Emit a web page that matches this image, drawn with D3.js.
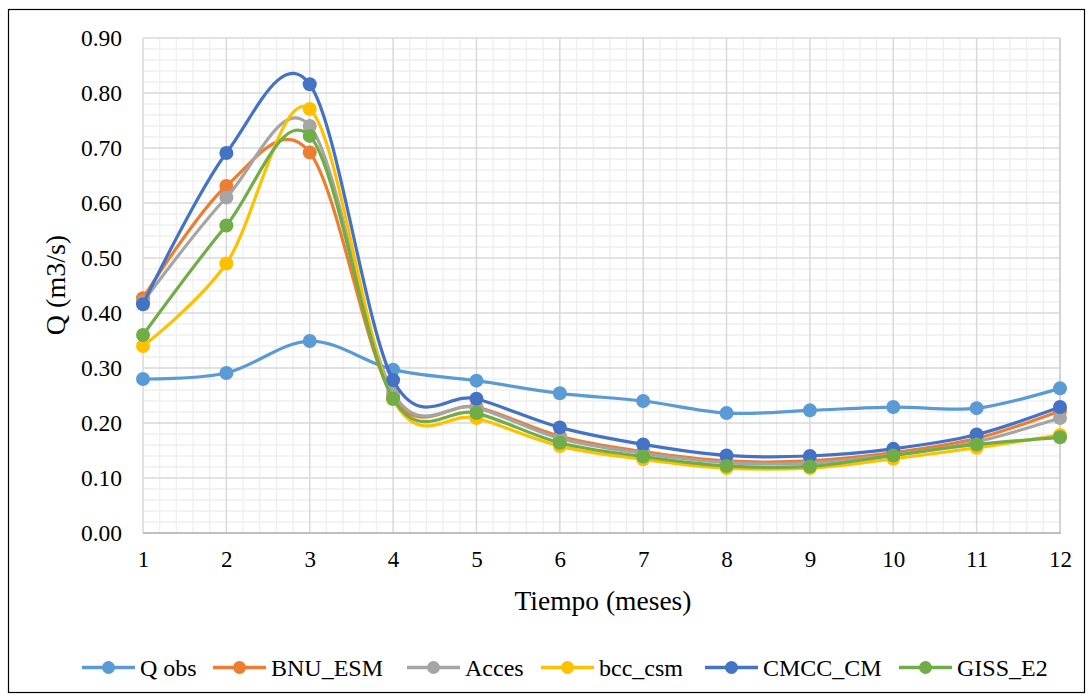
<!DOCTYPE html>
<html>
<head>
<meta charset="utf-8">
<script src="https://cdn.jsdelivr.net/npm/d3@7"></script>
<style>
  html, body { margin: 0; padding: 0; background: #ffffff; }
  svg { display: block; }
  text { font-family: "Liberation Serif", "Times New Roman", serif; fill: #000; }
</style>
</head>
<body>
<svg id="chart" width="1092" height="700"></svg>
<script>
// ---- data ----
const months = [1, 2, 3, 4, 5, 6, 7, 8, 9, 10, 11, 12];
const yTicks = [0, 0.1, 0.2, 0.3, 0.4, 0.5, 0.6, 0.7, 0.8, 0.9];
const seriesNames = ["Q obs", "BNU_ESM", "Acces", "bcc_csm", "CMCC_CM", "GISS_E2"];
const seriesColors = ["#5b9bd5", "#ed7d31", "#a5a5a5", "#ffc000", "#4472c4", "#70ad47"];
const qObs   = [0.280, 0.291, 0.349, 0.297, 0.277, 0.254, 0.240, 0.218, 0.223, 0.229, 0.227, 0.263];
const bnuEsm = [0.427, 0.631, 0.692, 0.247, 0.229, 0.176, 0.148, 0.131, 0.131, 0.146, 0.172, 0.222];
const acces  = [0.420, 0.610, 0.740, 0.255, 0.228, 0.172, 0.145, 0.128, 0.127, 0.142, 0.166, 0.209];
const bccCsm = [0.340, 0.490, 0.771, 0.243, 0.209, 0.158, 0.134, 0.118, 0.118, 0.135, 0.155, 0.178];
const cmccCm = [0.416, 0.691, 0.816, 0.278, 0.244, 0.192, 0.161, 0.141, 0.140, 0.153, 0.179, 0.229];
const gissE2 = [0.360, 0.559, 0.722, 0.244, 0.218, 0.164, 0.139, 0.122, 0.121, 0.141, 0.161, 0.174];
const seriesValues = [qObs, bnuEsm, acces, bccCsm, cmccCm, gissE2];

// ---- layout ----
const svg = d3.select("#chart");
const W = 1092, H = 700;
const plot = { left: 143, right: 1060, top: 38, bottom: 533 };
const legendStarts = [82, 213, 407, 541, 705, 899];

svg.append("rect").attr("x", 0).attr("y", 0).attr("width", W).attr("height", H).attr("fill", "#fff");
svg.append("rect").attr("x", 8.5).attr("y", 9.5).attr("width", 1076).attr("height", 683)
  .attr("fill", "none").attr("stroke", "#000").attr("stroke-width", 1.2);

const x = d3.scaleLinear().domain([1, 12]).range([plot.left, plot.right]);
const y = d3.scaleLinear().domain([0, 0.9]).range([plot.bottom, plot.top]);

// minor grid
const g = svg.append("g");
const minorX = d3.range(0, 55 + 1).map(i => 1 + i * 0.2).filter(v => Math.abs(v - Math.round(v)) > 1e-6);
const minorY = d3.range(0, 45 + 1).map(i => i * 0.02).filter(v => Math.abs(v * 10 - Math.round(v * 10)) > 1e-6);
g.selectAll(".mx").data(minorX).join("line")
  .attr("x1", d => x(d)).attr("x2", d => x(d)).attr("y1", plot.top).attr("y2", plot.bottom)
  .attr("stroke", "#efefef").attr("stroke-width", 1.3);
g.selectAll(".my").data(minorY).join("line")
  .attr("x1", plot.left).attr("x2", plot.right).attr("y1", d => y(d)).attr("y2", d => y(d))
  .attr("stroke", "#efefef").attr("stroke-width", 1.3);
// major grid
g.selectAll(".gx").data(months).join("line")
  .attr("x1", d => x(d)).attr("x2", d => x(d)).attr("y1", plot.top).attr("y2", plot.bottom)
  .attr("stroke", "#d9d9d9").attr("stroke-width", 1.5);
g.selectAll(".gy").data(yTicks).join("line")
  .attr("x1", plot.left).attr("x2", plot.right).attr("y1", d => y(d)).attr("y2", d => y(d))
  .attr("stroke", "#d9d9d9").attr("stroke-width", 1.5);
// right plot edge & bottom axis
g.append("line").attr("x1", plot.right).attr("x2", plot.right).attr("y1", plot.top).attr("y2", plot.bottom)
  .attr("stroke", "#cfcfcf").attr("stroke-width", 1.5);
g.append("line").attr("x1", plot.left).attr("x2", plot.right + 1).attr("y1", plot.bottom).attr("y2", plot.bottom)
  .attr("stroke", "#bfbfbf").attr("stroke-width", 2);

// axes
const yAxis = svg.append("g").attr("transform", `translate(${plot.left},0)`)
  .call(d3.axisLeft(y).tickValues(yTicks).tickFormat(d3.format(".2f")).tickSize(0).tickPadding(21));
yAxis.select(".domain").remove();
yAxis.selectAll("text").style("font-size", "23.5px").style("font-family", "'Liberation Serif', serif").attr("fill", "#000");

const xAxis = svg.append("g").attr("transform", `translate(0,${plot.bottom})`)
  .call(d3.axisBottom(x).tickValues(months).tickFormat(d3.format("d")).tickSize(0).tickPadding(18));
xAxis.select(".domain").remove();
xAxis.selectAll("text").style("font-size", "23px").style("font-family", "'Liberation Serif', serif").attr("fill", "#000");

// axis titles
svg.append("text").attr("x", 603).attr("y", 610).attr("text-anchor", "middle")
  .style("font-size", "27.5px").text("Tiempo (meses)");
svg.append("text").attr("transform", "translate(65,285) rotate(-90)").attr("text-anchor", "middle")
  .style("font-size", "28px").text("Q (m3/s)");

// series
const line = d3.line().x((d, i) => x(months[i])).y(d => y(d)).curve(d3.curveCatmullRom.alpha(0));
const sg = svg.append("g");
seriesValues.forEach((vals, si) => {
  const s = sg.append("g");
  s.append("path").datum(vals).attr("d", line).attr("fill", "none")
    .attr("stroke", seriesColors[si]).attr("stroke-width", 3.2).attr("stroke-linejoin", "round");
  s.selectAll("circle").data(vals).join("circle")
    .attr("cx", (d, i) => x(months[i])).attr("cy", d => y(d)).attr("r", 7)
    .attr("fill", seriesColors[si]);
});

// legend
const lg = svg.append("g");
const ly = 667.5;
seriesNames.forEach((name, si) => {
  const lx = legendStarts[si];
  const item = lg.append("g");
  item.append("line").attr("x1", lx).attr("x2", lx + 53).attr("y1", ly).attr("y2", ly)
    .attr("stroke", seriesColors[si]).attr("stroke-width", 3.5);
  item.append("circle").attr("cx", lx + 26.5).attr("cy", ly).attr("r", 6.5).attr("fill", seriesColors[si]);
  item.append("text").attr("x", lx + 58).attr("y", ly + 8).style("font-size", "24px").text(name);
});
</script>
</body>
</html>
